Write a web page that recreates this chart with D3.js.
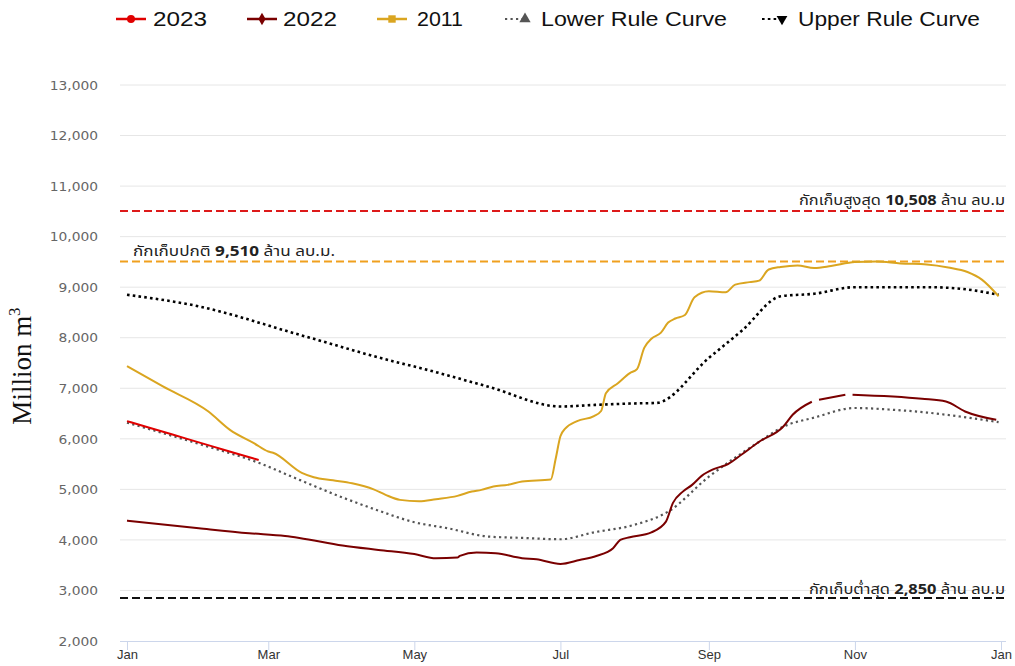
<!DOCTYPE html>
<html><head><meta charset="utf-8">
<script src="https://cdn.jsdelivr.net/npm/d3@7"></script>
<style>body{margin:0;background:#fff}svg{display:block}</style>
</head><body><svg id="c" width="1015" height="666"></svg>
<script>
// ---------- data ----------
const seriesNames = ["2023","2022","2011","Lower Rule Curve","Upper Rule Curve"];
const yTicks = [2000,3000,4000,5000,6000,7000,8000,9000,10000,11000,12000,13000];
const xTickDates = ["2023-01-01","2023-03-01","2023-05-01","2023-07-01","2023-09-01","2023-11-01","2024-01-01"];
const refValues = [10508, 9510, 2850];

const d2023 = [["01-01",6350],["01-10",6225],["01-20",6085],["01-31",5930],["02-10",5790],["02-20",5650],["02-25",5580]];

const d2022 = [["01-01",4382],["01-31",4231],["02-21",4133],["03-08",4079],["03-14",4040],["04-01",3890],["04-16",3802],
 ["05-01",3720],["05-10",3637],["05-19",3650],["05-20",3683],["05-27",3749],["06-04",3736],["06-15",3637],["06-21",3617],
 ["07-01",3525],["07-09",3604],["07-16",3683],["07-23",3835],["07-26",4000],["07-30",4053],["08-08",4150],["08-14",4356],
 ["08-17",4733],["08-21",4950],["08-25",5089],["08-29",5267],["09-03",5400],["09-09",5500],["09-15",5700],["09-22",5941],
 ["10-02",6238],["10-06",6475],["10-14",6733],["10-15",null],["10-17",6772],["10-28",6871],["10-30",null],["10-31",6871],
 ["11-29",6792],["12-09",6739],["12-17",6541],["12-30",6376]];

const d2011 = [["01-01",7440],["01-16",7036],["02-04",6541],["02-13",6178],["02-23",5914],["03-01",5749],["03-03",5723],["03-15",5327],
 ["03-20",5240],["03-28",5180],["04-05",5120],["04-14",5000],["04-19",4891],["04-25",4792],["05-03",4765],["05-10",4806],
 ["05-19",4871],["05-25",4956],["05-29",4990],["06-03",5056],["06-09",5089],["06-15",5155],["06-27",5195],["06-29",5600],
 ["07-01",6050],["07-03",6200],["07-08",6350],["07-15",6450],["07-18",6550],["07-20",6900],["07-25",7100],["07-30",7300],
 ["08-02",7380],["08-05",7800],["08-08",7980],["08-12",8100],["08-15",8300],["08-18",8380],["08-22",8450],["08-26",8800],
 ["09-01",8920],["09-08",8900],["09-12",9050],["09-18",9100],["09-22",9130],["09-26",9350],["10-01",9400],["10-08",9430],
 ["10-15",9380],["10-22",9420],["11-01",9500],["11-10",9510],["11-20",9470],["12-01",9450],["12-10",9390],["12-18",9300],
 ["12-24",9150],["12-31",8820]];

const dLower = [["01-01",6320],["01-31",5900],["02-25",5525],["03-14",5188],["04-01",4840],["04-16",4580],["05-01",4350],
 ["05-15",4230],["06-01",4066],["06-15",4040],["07-01",4013],["07-15",4150],["08-01",4300],["08-15",4560],["09-01",5250],
 ["09-22",5941],["10-02",6238],["10-15",6420],["11-01",6610],["11-15",6580],["12-01",6520],["12-15",6440],["12-31",6330]];

const dUpper = [["01-01",8850],["01-31",8620],["03-14",8059],["04-24",7511],["05-01",7430],["06-01",7030],["07-01",6640],
 ["07-15",6670],["08-01",6700],["08-10",6710],["09-01",7600],["09-15",8150],["10-01",8820],["10-15",8870],["11-01",9000],
 ["12-01",9000],["12-15",8970],["12-31",8850]];

// ---------- setup ----------
const svg = d3.select("#c");
const parse = d3.timeParse("%Y-%m-%d");
const toPts = arr => arr.map(([md,v]) => ({date: parse("2023-"+md), v}));
const x = d3.scaleTime().domain([parse("2023-01-01"), parse("2024-01-01")]).range([127, 1001]);
const y = d3.scaleLinear().domain([2000, 13000]).range([641, 85]);
const plotL = 120, plotR = 1006;
const SX = 1.15;
function stretch(sel, k){ sel.each(function(){ const L=this.getComputedTextLength(); d3.select(this).attr("textLength", L*k).attr("lengthAdjust","spacingAndGlyphs"); }); }
function fitTo(sel, w){ sel.attr("textLength", w).attr("lengthAdjust","spacingAndGlyphs"); }

// gridlines
svg.append("g").selectAll("line").data(yTicks.filter(t=>t>2000)).join("line")
  .attr("x1",plotL).attr("x2",plotR).attr("y1",d=>y(d)).attr("y2",d=>y(d))
  .attr("stroke","#e6e6e6").attr("stroke-width",1);

// y axis labels
const yAx = svg.append("g").attr("transform","translate(98,0)")
  .call(d3.axisLeft(y).tickValues(yTicks).tickSize(0).tickPadding(0).tickFormat(d3.format(",")));
yAx.select(".domain").remove();
yAx.selectAll("text").attr("font-family","DejaVu Sans, Verdana, sans-serif").attr("font-size",12).attr("fill","#666").attr("dy","0.35em");
stretch(yAx.selectAll("text"), SX);

// x axis
const xAx = svg.append("g").attr("transform","translate(0,641)")
  .call(d3.axisBottom(x).tickValues(xTickDates.map(parse)).tickSize(9).tickFormat(d3.timeFormat("%b")));
xAx.select(".domain").attr("d",`M${plotL},0.5H${plotR}`).attr("stroke","#ccd6eb");
xAx.selectAll(".tick line").attr("stroke","#ccd6eb");
xAx.selectAll("text").attr("y",9).attr("dy","0.71em")
  .attr("font-family","Liberation Sans Narrow, Arial Narrow, Liberation Sans, sans-serif").attr("font-size",13).attr("fill","#333");

// reference lines
const refCols = ["#dd1a1a","#f0a01e","#111"];
svg.append("g").selectAll("line").data(refValues).join("line")
  .attr("x1",plotL).attr("x2",plotR).attr("y1",d=>y(d)).attr("y2",d=>y(d))
  .attr("stroke",(d,i)=>refCols[i]).attr("stroke-width",2).attr("stroke-dasharray","8,4");

const thaiFont = "Tahoma, 'Noto Sans Thai', 'Noto Sans', 'DejaVu Sans', sans-serif";
function refLabel(xp, yp, anchor, pre, num, post, w){
  const t = svg.append("text").attr("x",xp).attr("y",yp).attr("text-anchor",anchor)
    .attr("font-family",thaiFont).attr("font-size",14).attr("fill","#222");
  t.append("tspan").text(pre);
  t.append("tspan").attr("font-weight","bold").text(num);
  t.append("tspan").text(post);
  fitTo(t, w);
}
refLabel(1005, y(refValues[0])-6, "end", "กักเก็บสูงสุด ", d3.format(",")(refValues[0]), " ล้าน ลบ.ม", 206);
refLabel(133, y(refValues[1])-5, "start", "กักเก็บปกติ ", d3.format(",")(refValues[1]), " ล้าน ลบ.ม.", 202);
refLabel(1005, y(refValues[2])-4, "end", "กักเก็บต่ำสุด ", d3.format(",")(refValues[2]), " ล้าน ลบ.ม", 196);

// series
const line = d3.line().defined(d=>d.v!=null).x(d=>x(d.date)).y(d=>y(d.v)).curve(d3.curveMonotoneX);
const series = [
  {name:seriesNames[3], data:dLower, color:"#555", w:2.2, dash:"2.2,3.3", sym:"triangle"},
  {name:seriesNames[4], data:dUpper, color:"#000", w:2.6, dash:"2.6,3.2", sym:"triangleDown"},
  {name:seriesNames[2], data:d2011, color:"#daa520", w:2, dash:null, sym:"square"},
  {name:seriesNames[1], data:d2022, color:"#7a0000", w:2, dash:null, sym:"diamond"},
  {name:seriesNames[0], data:d2023, color:"#e00000", w:2, dash:null, sym:"circle"},
];
svg.append("g").selectAll("path").data(series).join("path")
  .attr("d",s=>line(toPts(s.data))).attr("fill","none")
  .attr("stroke",s=>s.color).attr("stroke-width",s=>s.w)
  .attr("stroke-dasharray",s=>s.dash).attr("stroke-linejoin","round");

// legend
const legend = [
  {s:series[4], sx:116, tx:153, tw:54},
  {s:series[3], sx:247, tx:283, tw:54},
  {s:series[2], sx:377, tx:417, tw:46},
  {s:series[0], sx:505, tx:541, tw:186},
  {s:series[1], sx:762, tx:798, tw:182},
];
const symType = {circle:d3.symbolCircle, square:d3.symbolSquare, diamond:d3.symbolDiamond, triangle:d3.symbolTriangle};
legend.forEach(L=>{
  const g = svg.append("g");
  const dotted = !!L.s.dash;
  g.append("line").attr("x1",L.sx).attr("x2",L.sx+(dotted?22:30)).attr("y1",19).attr("y2",19)
    .attr("stroke",L.s.color).attr("stroke-width",dotted?2.2:2.5).attr("stroke-dasharray",L.s.dash);
  const cx = dotted ? L.sx+20 : L.sx+15;
  if(L.s.sym==="triangleDown"){
    g.append("path").attr("d",d3.symbol(d3.symbolTriangle,50)()).attr("transform",`translate(${cx},19) rotate(180)`).attr("fill",L.s.color);
  } else {
    g.append("path").attr("d",d3.symbol(symType[L.s.sym], L.s.sym==="circle"?50:(L.s.sym==="diamond"?45:55))()).attr("transform",`translate(${cx},19)`).attr("fill",L.s.color);
  }
  const t = g.append("text").attr("x",L.tx).attr("y",26).attr("font-family","Liberation Sans, Arial, sans-serif")
    .attr("font-size",20).attr("font-weight",500).attr("fill","#111").text(L.s.name);
  fitTo(t, L.tw);
});

// y title
const yt = svg.append("text").attr("transform","translate(31,366) rotate(-90)").attr("text-anchor","middle")
  .attr("font-family","Liberation Serif, Times New Roman, serif").attr("font-size",27).attr("fill","#111");
yt.append("tspan").text("Million m");
yt.append("tspan").attr("font-size",17).attr("dy",-11).text("3");
</script></body></html>
